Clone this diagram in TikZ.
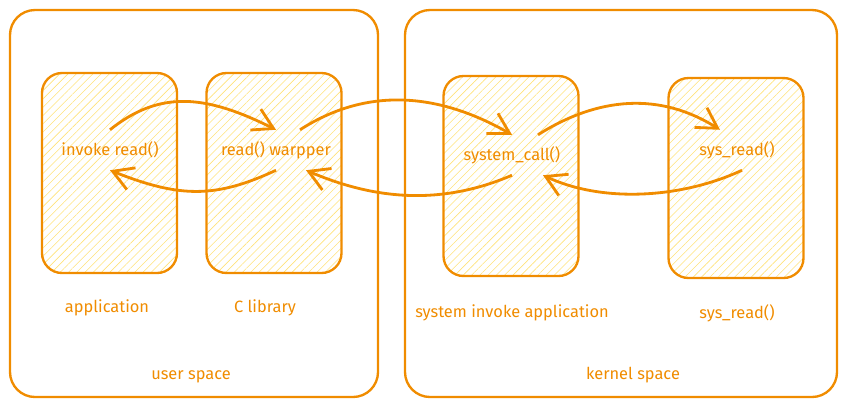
\documentclass[tikz,border=0pt]{standalone}
\usepackage{fontspec}
\setmainfont{Fira Sans}
\usetikzlibrary{arrows.meta,patterns.meta}
\definecolor{LineClr}{HTML}{F08C00}
\definecolor{HatchClr}{HTML}{FFE27A}

\begin{document}
\begin{tikzpicture}[x=0.03cm,y=-0.03cm,
  every node/.style={text=LineClr,font=\fontsize{14}{16}\selectfont},
  space/.style={draw=LineClr,line width=2pt,rounded corners=0.75cm},
  part/.style={draw=LineClr,line width=2pt,rounded corners=0.6cm,
    minimum width=4.05cm,minimum height=6cm,
    pattern={Lines[angle=45,distance=5pt,line width=0.5pt]},pattern color=HatchClr},
  func/.style={minimum height=1.2cm,inner sep=0pt},
  call/.style={draw=LineClr,line width=2.4pt,
    -{Straight Barb[length=0.6cm,width=0.7cm]}}]
\useasboundingbox (0,0) rectangle (847,407);

\draw[space] (10,10) rectangle (378,397);
\draw[space] (405,10) rectangle (837,397);

\node[part] (appbox) at (109.5,173) {};
\node[part] (libbox) at (274,173) {};
\node[part] (sysbox) at (511,176) {};
\node[part] (readbox) at (736,178) {};

\node[func] (invoke) at (110,150) {invoke read()};
\node[func] (wrapper) at (276,150) {read() warpper};
\node[func] (syscall) at (512,155) {system\_call()};
\node[func] (sysread) at (737,150) {sys\_read()};

\node (app) at (107,308) {application};
\node (clib) at (265,308) {C library};
\node (sysapp) at (512,313) {system invoke application};
\node (readlbl) at (737,313) {sys\_read()};
\node (user) at (191,377) {user space};
\node (kernel) at (633,375) {kernel space};

\draw[call] (invoke.north) .. controls +(50,-40) and +(-70,-35) .. (wrapper.north);
\draw[call] (wrapper.south) .. controls +(-60,28) and +(70,28) .. (invoke.south);
\draw[call] ([xshift=0.72cm]wrapper.north) .. controls +(70,-45) and +(-70,-40) .. (syscall.north);
\draw[call] (syscall.south) .. controls +(-70,30) and +(70,30) .. ([xshift=0.9cm]wrapper.south);
\draw[call] ([xshift=0.78cm]syscall.north) .. controls +(60,-38) and +(-60,-38) .. ([xshift=-0.51cm]sysread.north);
\draw[call] ([xshift=0.15cm]sysread.south) .. controls +(-60,28) and +(60,28) .. ([xshift=0.93cm]syscall.south);

\end{tikzpicture}
\end{document}
